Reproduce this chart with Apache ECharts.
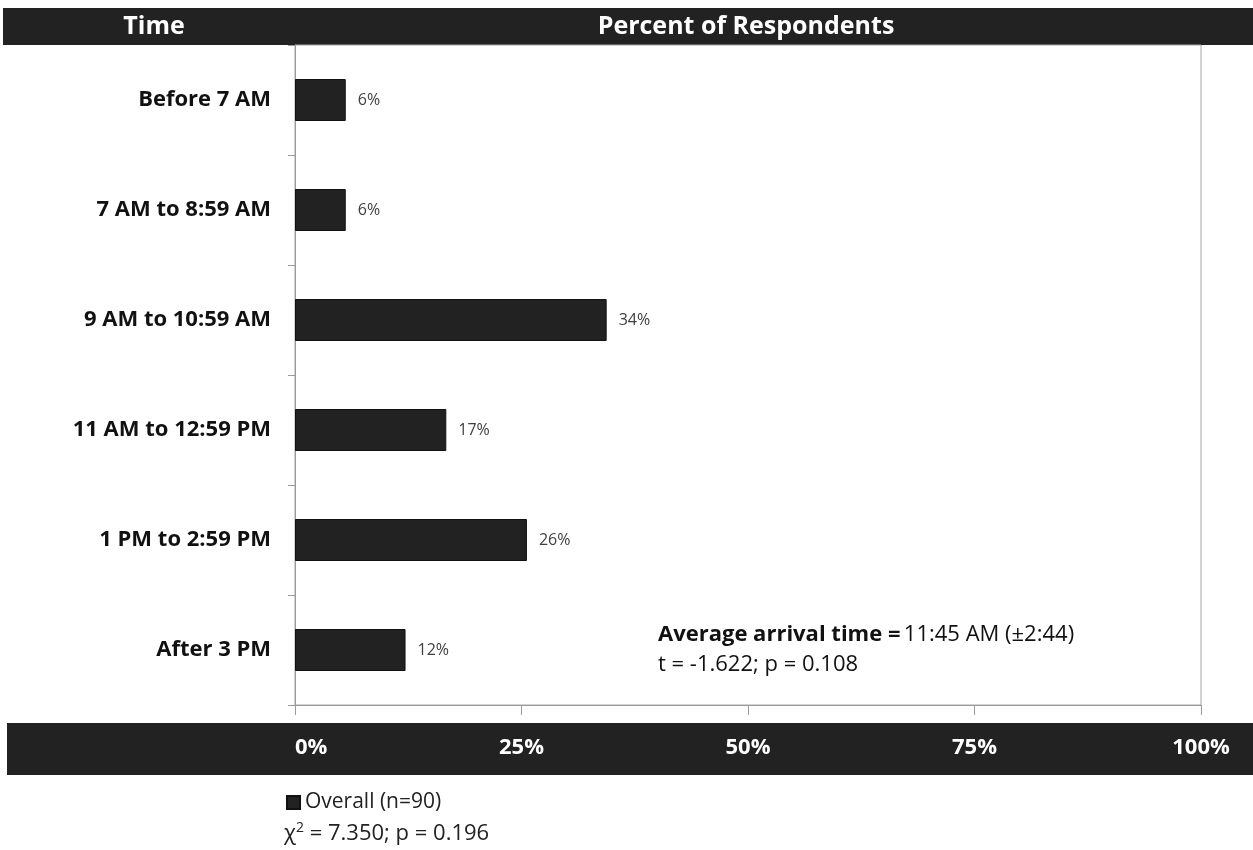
<!DOCTYPE html>
<html>
<head>
<meta charset="utf-8">
<script src="https://cdn.jsdelivr.net/npm/echarts@6/dist/echarts.min.js"></script>
<style>
  html, body { margin: 0; padding: 0; background: #fff; }
  #chart { width: 1253px; height: 850px; }
</style>
</head>
<body>
<div id="chart"></div>
<script>
    // 到达时间分组
    var categories = ['Before 7 AM', '7 AM to 8:59 AM', '9 AM to 10:59 AM',
        '11 AM to 12:59 PM', '1 PM to 2:59 PM', 'After 3 PM'];
    // 受访者百分比 (n=90)
    var overall = [5.6, 5.6, 34.4, 16.7, 25.6, 12.2];
    var seriesName = 'Overall (n=90)';
    var xTicks = [0, 25, 50, 75, 100];

    var font = '"Open Sans", Lato, sans-serif';
    var dark = '#222222';

    var myChart = echarts.init(document.getElementById('chart'));
    var option = {
        animation: false,
        textStyle: {fontFamily: font},
        grid: {
            left: 295,
            right: 52,
            top: 45,
            bottom: 145,
            show: true,
            borderColor: '#a6a6a6',
            borderWidth: 1
        },
        legend: {
            data: [seriesName],
            left: 281,
            top: 787,
            icon: 'rect',
            itemWidth: 13,
            itemHeight: 13,
            itemGap: 4,
            textStyle: {fontFamily: font, fontSize: 21, color: '#222'}
        },
        xAxis: {
            type: 'value',
            min: xTicks[0],
            max: xTicks[xTicks.length - 1],
            interval: 25,
            z: 10,
            axisLine: {show: true, lineStyle: {color: '#9a9a9a'}},
            axisTick: {show: true, length: 10, lineStyle: {color: '#9a9a9a'}},
            splitLine: {show: false},
            axisLabel: {
                formatter: '{value}%',
                color: '#fff',
                fontWeight: 'bold',
                fontSize: 22,
                margin: 32,
                alignMinLabel: 'left',
                fontFamily: font
            }
        },
        yAxis: {
            type: 'category',
            inverse: true,
            data: categories,
            axisLine: {show: true, lineStyle: {color: '#9a9a9a'}},
            axisTick: {show: true, length: 7, lineStyle: {color: '#9a9a9a'}},
            axisLabel: {
                color: '#111',
                fontWeight: 'bold',
                fontSize: 22,
                margin: 24,
                fontFamily: font
            }
        },
        series: [{
            name: seriesName,
            type: 'bar',
            data: overall,
            barWidth: 42,
            itemStyle: {color: dark, borderColor: '#111', borderWidth: 1},
            label: {
                show: true,
                position: 'right',
                distance: 12,
                color: '#404040',
                fontSize: 16,
                fontFamily: font,
                formatter: function (p) {
                    return Math.round(p.value) + '%';
                }
            }
        }],
        graphic: [
            // 顶部黑色标题栏
            {type: 'rect', z: -1, shape: {x: 3, y: 8, width: 1250, height: 37}, style: {fill: dark}},
            {type: 'text', x: 154, y: 27, style: {text: 'Time', fill: '#fff', font: 'bold 25px ' + font, textAlign: 'center', textVerticalAlign: 'middle'}},
            {type: 'text', x: 746, y: 27, style: {text: 'Percent of Respondents', fill: '#fff', font: 'bold 25px ' + font, textAlign: 'center', textVerticalAlign: 'middle'}},
            // 底部坐标刻度栏
            {type: 'rect', z: -1, shape: {x: 7, y: 723, width: 1246, height: 52}, style: {fill: dark}},
            {
                type: 'text', x: 658, y: 635, style: {
                    text: '{b|Average arrival time =} {n|11:45 AM (±2:44)}',
                    textVerticalAlign: 'middle',
                    rich: {
                        b: {font: 'bold 22px ' + font, fill: '#111'},
                        n: {font: '22px ' + font, fill: '#111'}
                    }
                }
            },
            {type: 'text', x: 658, y: 665, style: {text: 't = -1.622; p = 0.108', font: '22px ' + font, fill: '#111', textVerticalAlign: 'middle'}},
            {
                type: 'text', x: 284, y: 834, style: {
                    text: '{t|χ}{s|2}{t| = 7.350; p = 0.196}',
                    textVerticalAlign: 'middle',
                    rich: {
                        t: {font: '22px ' + font, fill: '#222', lineHeight: 26, verticalAlign: 'middle'},
                        s: {font: '14px ' + font, fill: '#222', lineHeight: 26, verticalAlign: 'top'}
                    }
                }
            }
        ]
    };
    myChart.setOption(option);
</script>
</body>
</html>
